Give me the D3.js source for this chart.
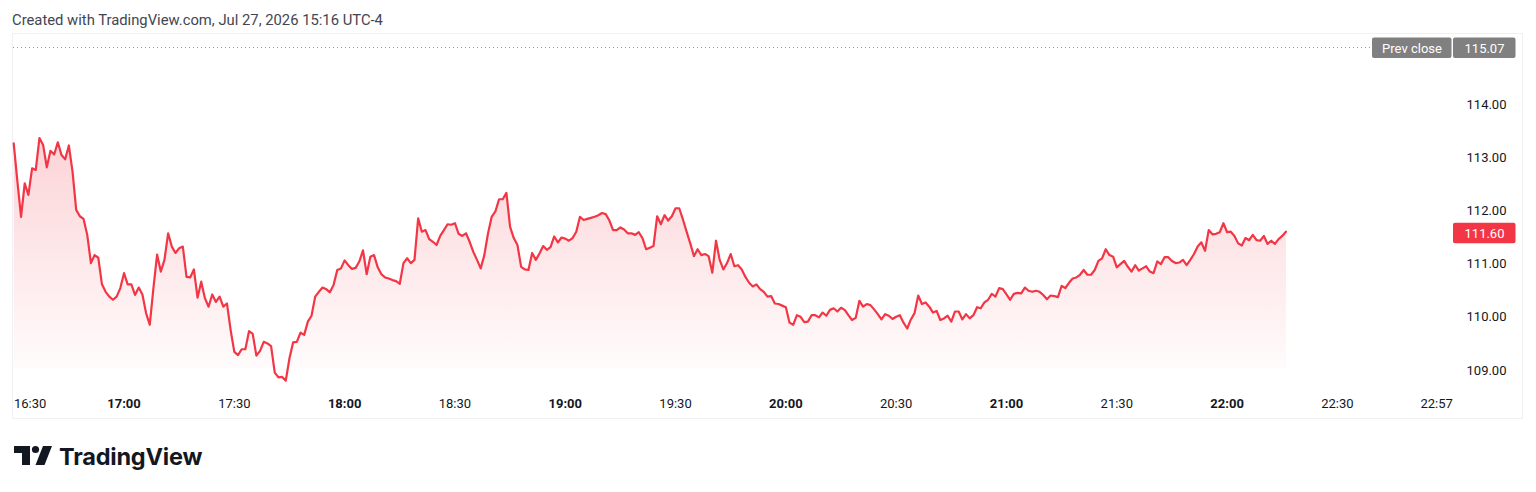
<!DOCTYPE html>
<html>
<head>
<meta charset="utf-8">
<script src="https://cdn.jsdelivr.net/npm/d3@7/dist/d3.min.js"></script>
<style>
  html, body { margin: 0; padding: 0; background: #ffffff; }
  svg { display: block; font-family: Roboto, "Noto Sans", sans-serif; }
</style>
</head>
<body>
<svg id="chart" width="1536" height="492"></svg>
<script>
// ---------- DATA ----------
const title = "Created with TradingView.com, Jul 27, 2026 15:16 UTC-4";
const sessionStart = "16:30";           // first bar time, 1-minute bars
const axisEnd = "23:01";                // right edge of time scale
const prevClose = 115.07;
const lastPrice = 111.60;
const priceTicks = [109, 110, 111, 112, 113, 114];
const timeTicks = ["16:30", "17:00", "17:30", "18:00", "18:30", "19:00", "19:30",
                   "20:00", "20:30", "21:00", "21:30", "22:00", "22:30", "22:57"];
const prices = [
  113.26,112.55,111.88,112.51,112.29,112.79,112.76,113.36,113.23,112.81,
  113.12,113.05,113.28,113.04,112.96,113.22,112.73,112.01,111.89,111.84,
  111.54,111.01,111.16,111.11,110.61,110.47,110.38,110.32,110.38,110.54,
  110.82,110.61,110.61,110.41,110.55,110.42,110.07,109.85,110.54,111.17,
  110.85,111.07,111.57,111.32,111.20,111.29,111.32,110.75,110.74,110.89,
  110.36,110.66,110.35,110.19,110.42,110.28,110.38,110.19,110.25,109.75,
  109.34,109.28,109.39,109.39,109.73,109.68,109.27,109.36,109.53,109.50,
  109.45,108.95,108.86,108.87,108.80,109.22,109.52,109.53,109.70,109.66,
  109.91,110.02,110.38,110.47,110.55,110.52,110.46,110.60,110.88,110.91,
  111.06,110.97,110.90,110.92,111.04,111.25,110.80,111.13,111.16,110.93,
  110.80,110.74,110.72,110.69,110.67,110.62,111.01,111.10,111.01,111.07,
  111.85,111.60,111.63,111.46,111.41,111.35,111.52,111.63,111.74,111.73,
  111.76,111.56,111.52,111.57,111.41,111.22,111.07,110.91,111.16,111.57,
  111.88,111.98,112.21,112.21,112.33,111.69,111.48,111.35,110.94,110.89,
  110.88,111.20,111.07,111.19,111.33,111.26,111.31,111.51,111.40,111.49,
  111.47,111.43,111.48,111.60,111.88,111.82,111.84,111.86,111.88,111.91,
  111.95,111.93,111.81,111.63,111.63,111.68,111.64,111.57,111.57,111.54,
  111.59,111.48,111.27,111.30,111.33,111.89,111.74,111.91,111.81,111.89,
  112.04,112.04,111.83,111.60,111.38,111.14,111.27,111.16,111.18,111.14,
  110.83,111.43,111.07,110.89,111.01,111.18,110.95,110.97,110.89,110.75,
  110.64,110.57,110.61,110.52,110.47,110.38,110.39,110.25,110.24,110.21,
  110.18,109.89,109.85,110.03,110.00,109.90,109.91,110.03,110.03,109.99,
  110.08,110.02,110.13,110.16,110.10,110.17,110.13,110.03,109.94,109.98,
  110.30,110.19,110.24,110.22,110.14,110.05,109.95,110.05,110.02,109.96,
  110.00,110.03,109.89,109.78,109.95,110.07,110.40,110.24,110.27,110.19,
  110.08,110.11,109.94,109.97,110.02,109.91,110.10,110.10,109.95,110.05,
  109.97,110.03,110.18,110.16,110.27,110.32,110.43,110.38,110.54,110.52,
  110.42,110.32,110.43,110.45,110.44,110.55,110.49,110.47,110.49,110.47,
  110.41,110.33,110.40,110.39,110.37,110.58,110.54,110.64,110.72,110.74,
  110.79,110.88,110.79,110.79,110.88,111.05,111.10,111.27,111.16,111.13,
  110.93,110.99,111.05,110.94,110.85,110.97,110.87,110.91,110.95,110.85,
  110.82,111.04,110.99,111.12,111.12,111.05,111.01,111.02,111.07,110.97,
  111.07,111.18,111.32,111.40,111.24,111.63,111.55,111.56,111.59,111.76,
  111.59,111.60,111.52,111.38,111.34,111.48,111.44,111.54,111.44,111.43,
  111.52,111.37,111.43,111.37,111.46,111.52,111.60
];

// ---------- HELPERS ----------
const day = "2026-07-27T";
const parseT = s => new Date(day + s + ":00");
const t0 = parseT(sessionStart);
const series = prices.map((p, i) => ({ t: new Date(t0.getTime() + i * 60000), p }));

// ---------- LAYOUT ----------
const frame = { left: 12, top: 33, right: 1523, bottom: 419 };
const plot = { left: 13, right: 1452, top: 34, bottom: 388 };

const svg = d3.select("#chart");

const x = d3.scaleTime()
  .domain([t0, parseT(axisEnd)])
  .range([13.7, 1451.4]);
const y = d3.scaleLinear()
  .domain([109, 114])
  .range([370, 104]);

// Header
svg.append("text")
  .attr("x", 12).attr("y", 24.5)
  .style("font-family", "Roboto, sans-serif")
  .style("font-size", "14.8px")
  .attr("fill", "#434651")
  .text(title);

// Frame
svg.append("rect")
  .attr("x", frame.left + 0.5).attr("y", frame.top + 0.5)
  .attr("width", frame.right - frame.left - 1)
  .attr("height", frame.bottom - frame.top - 1)
  .attr("fill", "none")
  .attr("stroke", "#eff1f5")
  .attr("stroke-width", 1);

// Gradient
const defs = svg.append("defs");
const grad = defs.append("linearGradient")
  .attr("id", "areaGrad")
  .attr("gradientUnits", "userSpaceOnUse")
  .attr("x1", 0).attr("x2", 0)
  .attr("y1", y(113.4)).attr("y2", plot.bottom - 20);
grad.append("stop").attr("offset", "0%").attr("stop-color", "#f23645").attr("stop-opacity", 0.22);
grad.append("stop").attr("offset", "100%").attr("stop-color", "#f23645").attr("stop-opacity", 0.02);

// Area
const area = d3.area()
  .x(d => x(d.t))
  .y0(plot.bottom - 20)
  .y1(d => y(d.p));
svg.append("path")
  .datum(series)
  .attr("d", area)
  .attr("fill", "url(#areaGrad)");

// Prev close dotted line
svg.append("line")
  .attr("x1", plot.left).attr("x2", 1372)
  .attr("y1", Math.round(y(prevClose)) + 0.5).attr("y2", Math.round(y(prevClose)) + 0.5)
  .attr("stroke", "#9598a1")
  .attr("stroke-width", 1)
  .attr("stroke-dasharray", "1,3");

// Line
const line = d3.line()
  .x(d => x(d.t))
  .y(d => y(d.p));
svg.append("path")
  .datum(series)
  .attr("d", line)
  .attr("fill", "none")
  .attr("stroke", "#f23645")
  .attr("stroke-width", 2.2)
  .attr("stroke-linejoin", "round")
  .attr("stroke-linecap", "round");

// Price axis labels
const axisCx = 1486.5;
const yAxis = svg.append("g").attr("class", "y-axis");
yAxis.selectAll("text")
  .data(priceTicks)
  .enter().append("text")
  .attr("x", axisCx)
  .attr("y", d => y(d))
  .attr("dy", "0.35em")
  .attr("text-anchor", "middle")
  .attr("font-size", 13)
  .attr("fill", "#131722")
  .text(d => d3.format(".2f")(d));

// Prev close labels
const pcY = y(prevClose);
svg.append("rect")
  .attr("x", 1372).attr("y", pcY - 9.5).attr("width", 79.5).attr("height", 20.5)
  .attr("rx", 2).attr("fill", "#808080");
svg.append("text")
  .attr("x", 1372 + 40).attr("y", pcY + 1).attr("dy", "0.35em")
  .attr("text-anchor", "middle").attr("font-size", 13).attr("fill", "#ffffff")
  .text("Prev close");
svg.append("rect")
  .attr("x", 1453).attr("y", pcY - 9.5).attr("width", 62.5).attr("height", 20.5)
  .attr("rx", 2).attr("fill", "#808080");
svg.append("text")
  .attr("x", 1484.5).attr("y", pcY + 1).attr("dy", "0.35em")
  .attr("text-anchor", "middle").attr("font-size", 13).attr("fill", "#ffffff")
  .text(d3.format(".2f")(prevClose));

// Last price label
const lpY = y(lastPrice);
svg.append("rect")
  .attr("x", 1453).attr("y", lpY - 9).attr("width", 62.5).attr("height", 20.5)
  .attr("rx", 2).attr("fill", "#f23645");
svg.append("text")
  .attr("x", 1484.5).attr("y", lpY + 1.5).attr("dy", "0.35em")
  .attr("text-anchor", "middle").attr("font-size", 13).attr("fill", "#ffffff")
  .text(d3.format(".2f")(lastPrice));

// Time axis labels
const xAxis = svg.append("g").attr("class", "x-axis");
xAxis.selectAll("text")
  .data(timeTicks)
  .enter().append("text")
  .attr("x", (d, i) => i === 0 ? 14 : x(parseT(d)))
  .attr("y", 403)
  .attr("dy", "0.35em")
  .attr("text-anchor", (d, i) => i === 0 ? "start" : "middle")
  .attr("font-size", 13)
  .attr("font-weight", d => d.endsWith(":00") ? 700 : 400)
  .attr("fill", "#131722")
  .text(d => d);

// TradingView logo
const logo = svg.append("g").attr("fill", "#131722");
logo.append("path").attr("d", "M14,446 H30 V465 H22 V453 H14 Z");
logo.append("circle").attr("cx", 35.5).attr("cy", 449.5).attr("r", 3.6);
logo.append("path").attr("d", "M43,446 H52 L44.5,465 H35.5 Z");
svg.append("text")
  .attr("x", 59).attr("y", 464.5)
  .style("font-family", "Inter, Roboto, sans-serif")
  .style("font-size", "23.5px")
  .style("font-weight", 700)
  .style("letter-spacing", "-0.2px")
  .attr("fill", "#131722")
  .text("TradingView");
</script>
</body>
</html>
